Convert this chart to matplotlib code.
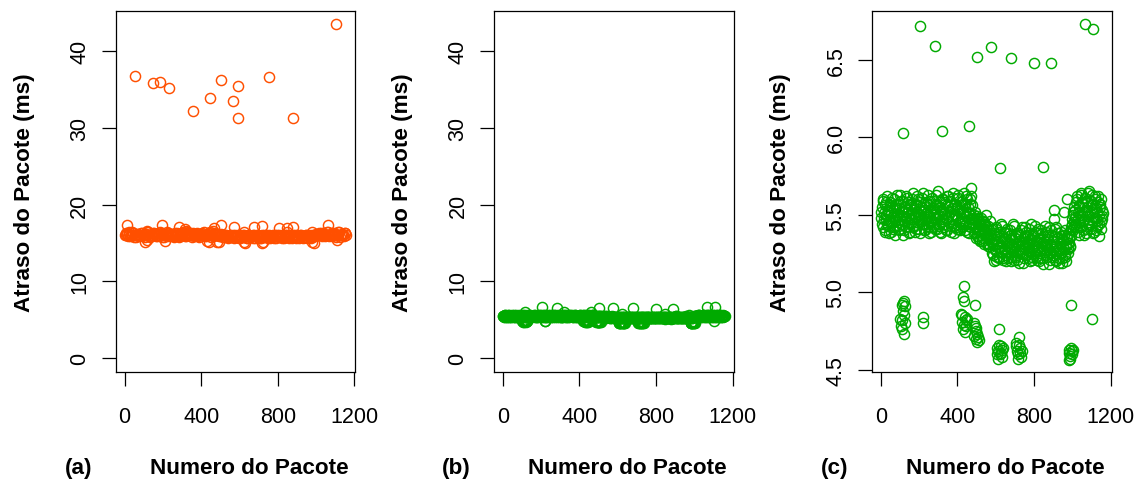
import matplotlib
matplotlib.use("Agg")
import matplotlib.pyplot as plt
import numpy as np

plt.rcParams['font.family'] = ['Liberation Sans', 'DejaVu Sans']

ORANGE = '#FF4F00'
GREEN = '#00AA00'

# ---------------- data ----------------
# Green series (panels b and c): dense band, packets 1, 5, 9, ...
green_band_y = [
    5.48, 5.55, 5.42, 5.60, 5.51, 5.39, 5.47, 5.58, 5.44, 5.52,
    5.38, 5.50, 5.56, 5.45, 5.61, 5.49, 5.41, 5.53, 5.46, 5.57,
    5.43, 5.63, 5.50, 5.40, 5.54, 5.47, 5.59, 5.44, 5.52, 5.37,
    5.55, 5.48, 5.62, 5.42, 5.51, 5.58, 5.45, 5.50, 5.39, 5.56,
    5.47, 5.53, 5.64, 5.43, 5.49, 5.57, 5.41, 5.52, 5.60, 5.46,
    5.50, 5.38, 5.55, 5.48, 5.61, 5.44, 5.53, 5.40, 5.58, 5.47,
    5.51, 5.63, 5.42, 5.56, 5.49, 5.39, 5.54, 5.46, 5.59, 5.45,
    5.52, 5.41, 5.57, 5.48, 5.65, 5.43, 5.50, 5.55, 5.38, 5.53,
    5.47, 5.60, 5.44, 5.51, 5.58, 5.40, 5.56, 5.49, 5.62, 5.45,
    5.52, 5.39, 5.54, 5.47, 5.61, 5.43, 5.50, 5.57, 5.42, 5.55,
    5.48, 5.63, 5.41, 5.53, 5.46, 5.59, 5.44, 5.51, 5.64, 5.40,
    5.56, 5.49, 5.60, 5.43, 5.52, 5.38, 5.57, 5.47, 5.62, 5.45,
    5.47, 5.38, 5.52, 5.42, 5.35, 5.49, 5.40, 5.46, 5.34, 5.44,
    5.37, 5.48, 5.33, 5.41, 5.45, 5.31, 5.39, 5.50, 5.36, 5.43,
    5.30, 5.38, 5.46, 5.33, 5.41,
    5.25, 5.34, 5.20, 5.38, 5.28, 5.42, 5.23, 5.31, 5.36, 5.22,
    5.29, 5.44, 5.26, 5.33, 5.21, 5.39, 5.27, 5.35, 5.24, 5.30,
    5.41, 5.22, 5.32, 5.28, 5.37, 5.20, 5.34, 5.26, 5.43, 5.29,
    5.23, 5.36, 5.31, 5.21, 5.38, 5.27, 5.33, 5.25, 5.40, 5.30,
    5.19, 5.35, 5.28, 5.42, 5.24, 5.32, 5.37, 5.22, 5.29, 5.34,
    5.26, 5.44, 5.21, 5.31, 5.36, 5.27, 5.39, 5.23, 5.33, 5.28,
    5.41, 5.20, 5.35, 5.25, 5.30, 5.38, 5.22, 5.32, 5.27, 5.43,
    5.24, 5.34, 5.29, 5.37, 5.18, 5.31, 5.26, 5.40, 5.23, 5.33,
    5.28, 5.36, 5.21, 5.42, 5.30, 5.25, 5.35, 5.19, 5.32, 5.27,
    5.39, 5.22, 5.34, 5.29, 5.37, 5.24, 5.31, 5.20, 5.36, 5.28,
    5.32, 5.38, 5.30, 5.42, 5.47, 5.40, 5.52, 5.45,
    5.48, 5.58, 5.42, 5.62, 5.51, 5.37, 5.55, 5.45, 5.64, 5.50,
    5.40, 5.57, 5.47, 5.61, 5.53, 5.38, 5.59, 5.44, 5.65, 5.49,
    5.41, 5.56, 5.52, 5.63, 5.46, 5.39, 5.60, 5.48, 5.54, 5.43,
    5.62, 5.50, 5.36, 5.57, 5.45, 5.53, 5.47,
]
# Green series dense band, packets 3, 7, 11, ...
green_band2_y = [
    5.52, 5.44, 5.59, 5.47, 5.40, 5.56, 5.50, 5.62, 5.43, 5.53,
    5.46, 5.58, 5.39, 5.51, 5.55, 5.42, 5.60, 5.48, 5.37, 5.54,
    5.49, 5.45, 5.57, 5.41, 5.63, 5.50, 5.44, 5.52, 5.59, 5.46,
    5.40, 5.55, 5.48, 5.61, 5.43, 5.53, 5.38, 5.57, 5.47, 5.51,
    5.60, 5.42, 5.54, 5.49, 5.39, 5.56, 5.45, 5.62, 5.50, 5.41,
    5.58, 5.47, 5.53, 5.44, 5.64, 5.48, 5.40, 5.55, 5.51, 5.43,
    5.57, 5.46, 5.38, 5.59, 5.52, 5.45, 5.61, 5.42, 5.50, 5.54,
    5.47, 5.63, 5.41, 5.56, 5.49, 5.44, 5.58, 5.39, 5.53, 5.60,
    5.46, 5.51, 5.42, 5.57, 5.48, 5.62, 5.40, 5.55, 5.45, 5.52,
    5.59, 5.43, 5.50, 5.64, 5.47, 5.38, 5.56, 5.49, 5.53, 5.41,
    5.61, 5.45, 5.54, 5.40, 5.58, 5.48, 5.52, 5.43, 5.57, 5.46,
    5.50, 5.62, 5.39, 5.55, 5.44, 5.60, 5.51, 5.42, 5.56, 5.48,
    5.44, 5.50, 5.39, 5.47, 5.42, 5.36, 5.48, 5.41, 5.45, 5.33,
    5.43, 5.38, 5.46, 5.35, 5.40, 5.44, 5.32, 5.42, 5.37, 5.31,
    5.40, 5.34, 5.29, 5.37, 5.32,
    5.31, 5.24, 5.37, 5.27, 5.41, 5.21, 5.33, 5.29, 5.39, 5.23,
    5.35, 5.26, 5.30, 5.43, 5.22, 5.34, 5.28, 5.38, 5.20, 5.32,
    5.25, 5.36, 5.29, 5.40, 5.23, 5.31, 5.27, 5.44, 5.21, 5.35,
    5.30, 5.24, 5.38, 5.26, 5.33, 5.19, 5.37, 5.28, 5.42, 5.25,
    5.32, 5.22, 5.36, 5.29, 5.39, 5.24, 5.31, 5.27, 5.41, 5.20,
    5.34, 5.28, 5.23, 5.37, 5.30, 5.43, 5.25, 5.33, 5.21, 5.38,
    5.29, 5.35, 5.22, 5.40, 5.27, 5.32, 5.18, 5.36, 5.26, 5.31,
    5.39, 5.23, 5.34, 5.28, 5.42, 5.21, 5.30, 5.25, 5.37, 5.33,
    5.24, 5.41, 5.29, 5.20, 5.35, 5.27, 5.38, 5.22, 5.31, 5.26,
    5.36, 5.19, 5.33, 5.28, 5.40, 5.23, 5.30, 5.35, 5.25, 5.32,
    5.35, 5.29, 5.40, 5.36, 5.44, 5.50, 5.43, 5.55,
    5.53, 5.44, 5.60, 5.47, 5.39, 5.56, 5.50, 5.63, 5.42, 5.58,
    5.46, 5.52, 5.37, 5.61, 5.49, 5.55, 5.41, 5.64, 5.45, 5.51,
    5.59, 5.43, 5.57, 5.38, 5.54, 5.48, 5.62, 5.40, 5.52, 5.46,
    5.58, 5.44, 5.55, 5.41, 5.60, 5.49, 5.51,
]
# Green isolated points (packet number, delay ms)
green_out_x = [202, 280, 502, 576, 677, 802, 886, 1064, 1107,
               115, 319, 462, 621, 848, 472, 903, 905, 955, 973,
               100, 105, 108, 110, 112, 113, 115, 118, 120, 122, 125, 127,
               218, 220,
               436, 429, 432, 418, 425, 440, 447, 422, 435, 444, 428, 438, 450,
               492, 485, 490, 495, 500, 505, 498, 510, 488, 503, 495,
               619, 605, 612, 620, 625, 630, 610, 635, 615, 628, 640, 608,
               720, 705, 712, 718, 725, 730, 708, 722, 735, 715, 728,
               992, 980, 985, 990, 995, 1000, 988, 998, 983, 1003,
               1104]
green_out_y = [6.72, 6.59, 6.52, 6.58, 6.51, 6.48, 6.48, 6.73, 6.70,
               6.03, 6.04, 6.07, 5.80, 5.81, 5.67, 5.47, 5.53, 5.52, 5.60,
               4.83, 4.78, 4.82, 4.92, 4.76, 4.88, 4.93, 4.85, 4.73, 4.94, 4.80, 4.91,
               4.84, 4.80,
               5.04, 4.97, 4.94, 4.86, 4.85, 4.84, 4.82, 4.81, 4.79, 4.78, 4.76, 4.74, 4.83,
               4.92, 4.80, 4.78, 4.75, 4.73, 4.71, 4.70, 4.69, 4.72, 4.68, 4.77,
               4.76, 4.64, 4.62, 4.60, 4.65, 4.58, 4.57, 4.63, 4.66, 4.61, 4.64, 4.60,
               4.71, 4.65, 4.62, 4.60, 4.64, 4.58, 4.67, 4.66, 4.62, 4.57, 4.61,
               4.92, 4.63, 4.61, 4.59, 4.64, 4.62, 4.57, 4.60, 4.56, 4.63,
               4.83]

# Orange series (panel a): dense band, packets 1, 9, 17, ...
orange_band_y = [
    16.1, 16.3, 15.9, 16.2, 16.0, 16.4, 15.8, 16.1, 16.2, 15.9,
    16.0, 16.3, 16.1, 15.8, 16.2, 16.4, 15.9, 16.1, 16.0, 16.3,
    16.2, 15.9, 16.1, 16.4, 15.8, 16.0, 16.2, 16.1, 16.3, 15.9,
    16.0, 16.2, 15.8, 16.1, 16.3, 16.0, 15.9, 16.2, 16.4, 16.1,
    15.9, 16.0, 16.3, 16.1, 15.8, 16.2, 16.0, 16.3, 15.9, 16.1,
    16.2, 16.0, 16.4, 15.9, 16.1, 16.3, 15.8, 16.0, 16.2, 16.1,
    16.0, 16.2, 15.9, 16.1, 15.8, 16.0, 16.1, 15.9, 15.8, 16.0, 15.9, 15.7, 16.0,
    15.8, 16.0, 15.7, 15.9, 16.1, 15.8, 15.9, 15.7, 16.0, 15.8,
    15.9, 16.1, 15.7, 15.8, 16.0, 15.9, 15.7, 15.8, 16.1, 15.9,
    15.8, 16.0, 15.7, 15.9, 15.8, 16.1, 15.7, 15.9, 16.0, 15.8,
    15.9, 15.7, 16.0, 15.8, 15.9, 16.1, 15.7, 15.8, 16.0, 15.9,
    15.8, 15.7, 16.0, 15.9, 15.8, 16.1, 15.7, 15.9, 15.8, 16.0,
    15.9, 16.0, 16.2, 16.1,
    16.1, 16.3, 15.9, 16.2, 16.0, 16.4, 15.9, 16.1, 16.3, 16.0,
    16.2, 15.8, 16.1, 16.4, 16.0, 16.2, 15.9, 16.3,
]
# Orange dense band, packets 5, 13, 21, ...
orange_band2_y = [
    16.0, 16.2, 16.4, 15.9, 16.1, 16.3, 16.0, 15.8, 16.2, 16.1,
    16.3, 15.9, 16.0, 16.2, 16.4, 16.1, 15.8, 16.0, 16.3, 16.2,
    15.9, 16.1, 16.0, 16.3, 16.2, 15.8, 16.1, 16.4, 16.0, 16.2,
    16.1, 15.9, 16.3, 16.0, 16.2, 15.8, 16.1, 16.3, 16.0, 15.9,
    16.2, 16.4, 16.1, 16.0, 16.3, 15.9, 16.2, 16.1, 15.8, 16.0,
    16.3, 16.1, 15.9, 16.2, 16.0, 16.4, 16.1, 15.9, 16.3, 16.0,
    16.1, 15.9, 16.2, 16.0, 15.8, 16.1, 15.9, 15.7, 16.0, 15.8, 16.0, 15.9, 15.8,
    15.9, 15.7, 16.0, 15.8, 16.1, 15.9, 15.7, 16.0, 15.8, 15.9,
    15.7, 16.0, 15.9, 16.1, 15.8, 15.7, 16.0, 15.9, 15.8, 16.1,
    15.7, 15.9, 15.8, 16.0, 15.7, 15.9, 16.1, 15.8, 15.9, 15.7,
    16.0, 15.8, 16.1, 15.9, 15.7, 15.8, 16.0, 15.9, 15.7, 16.1,
    15.8, 16.0, 15.9, 15.7, 15.8, 16.0, 15.9, 16.1, 15.7, 15.8,
    16.0, 15.9, 16.1, 16.3,
    16.2, 16.0, 16.3, 15.9, 16.1, 16.4, 16.0, 16.2, 15.9, 16.3,
    16.1, 16.0, 16.4, 15.8, 16.2, 16.0, 16.3, 16.1,
]
orange_out_x = [56, 146, 183, 233, 355, 445, 506, 565, 590, 590, 755, 880, 1104,
                12, 195, 282, 317, 465, 504, 572, 621, 677, 717, 804, 847, 878, 978, 1064,
                115, 319, 462, 848,
                108, 115, 212, 430, 440, 482, 495, 621, 630, 717, 725, 978, 990, 1108]
orange_out_y = [36.7, 35.8, 36.0, 35.15, 32.2, 33.85, 36.2, 33.55, 35.5, 31.3, 36.6, 31.25, 43.5,
                17.37, 17.3, 17.1, 16.8, 17.0, 17.3, 17.1, 16.4, 17.1, 17.2, 17.0, 16.9, 17.1, 16.5, 17.3,
                16.6, 16.6, 16.6, 16.4,
                15.2, 15.4, 15.3, 15.3, 15.1, 15.2, 15.1, 15.1, 15.0, 15.0, 15.1, 15.1, 15.0, 15.4]

x_ticks = [0, 400, 800, 1200]
y_ticks_ab = [0, 10, 20, 30, 40]
y_ticks_c = [4.5, 5.0, 5.5, 6.0, 6.5]
y_ticklabels_c = ['4.5', '5.0', '5.5', '6.0', '6.5']
panel_tags = ['(a)', '(b)', '(c)']
x_label = 'Numero do Pacote'
y_label = 'Atraso do Pacote (ms)'

# ---------------- figure ----------------
W, H = 1140, 485
fig = plt.figure(figsize=(W / 100, H / 100), dpi=100)

box_lefts = [116.0, 494.3, 872.3]
box_w = 239.5
box_top, box_bottom = 11.7, 372.7

green_x = np.arange(len(green_band_y)) * 4 + 1
green_x2 = np.arange(len(green_band2_y)) * 4 + 3
orange_x = np.arange(len(orange_band_y)) * 8 + 1
orange_x2 = np.arange(len(orange_band2_y)) * 8 + 5

green_sets = [(green_x, green_band_y), (green_x2, green_band2_y), (green_out_x, green_out_y)]
orange_sets = [(orange_x, orange_band_y), (orange_x2, orange_band2_y), (orange_out_x, orange_out_y)]

panels = [
    (orange_sets, ORANGE, (-1.74, 45.24), y_ticks_ab, [str(t) for t in y_ticks_ab]),
    (green_sets, GREEN, (-1.74, 45.24), y_ticks_ab, [str(t) for t in y_ticks_ab]),
    (green_sets, GREEN, (4.487, 6.816), y_ticks_c, y_ticklabels_c),
]

for i, (sets, col, ylim, yt, ytl) in enumerate(panels):
    left = box_lefts[i]
    ax = fig.add_axes([left / W, 1 - box_bottom / H, box_w / W, (box_bottom - box_top) / H])
    style = dict(linestyle='none', marker='o', mfc='none', mec=col, ms=7.3, mew=1.05)
    for sx, sy in sets:
        ax.plot(sx, sy, **style)
    ax.set_xlim(-45, 1206)
    ax.set_ylim(*ylim)
    ax.set_xticks(x_ticks)
    ax.set_xticklabels([str(t) for t in x_ticks])
    ax.set_yticks(yt)
    ax.set_yticklabels(ytl, rotation=90, va='center')
    for s in ax.spines.values():
        s.set_linewidth(0.9)
        s.set_color('black')
    ax.tick_params(axis='both', direction='out', length=10, width=0.9, labelsize=15.5, color='black')
    ax.tick_params(axis='x', pad=14.5)
    ax.tick_params(axis='y', pad=8.5)

    fig.text((left - 86) / W, 1 - box_top / H - (box_bottom - box_top) / 2 / H, y_label,
             rotation=90, rotation_mode='anchor', ha='center', va='baseline',
             fontsize=16.2, fontweight='bold')
    fig.text((left + 133.3) / W, 1 - 474 / H, x_label, ha='center', va='baseline',
             fontsize=16.2, fontweight='bold')
    fig.text((left - 37.7) / W, 1 - 474 / H, panel_tags[i], ha='center', va='baseline',
             fontsize=16.2, fontweight='bold')

fig.savefig('out.png', dpi=100)
